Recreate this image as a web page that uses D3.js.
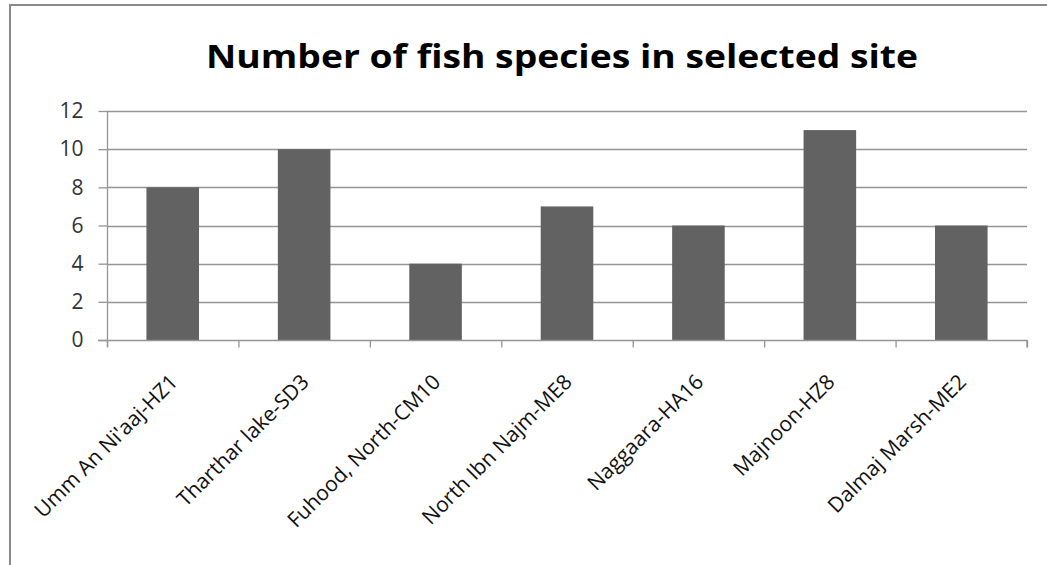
<!DOCTYPE html>
<html>
<head>
<meta charset="utf-8">
<script src="https://cdn.jsdelivr.net/npm/d3@7"></script>
<style>
	body { margin: 0; background: #fff; }
	text { font-family: "Open Sans", Lato, sans-serif; }
</style>
</head>
<body>
<script>
var sites = [
	"Umm An Ni'aaj-HZ1",
	'Tharthar lake-SD3',
	'Fuhood, North-CM10',
	'North Ibn Najm-ME8',
	'Naggaara-HA16',
	'Majnoon-HZ8',
	'Dalmaj Marsh-ME2'
];
var speciesCount = [8, 10, 4, 7, 6, 11, 6];
var yTicks = [0, 2, 4, 6, 8, 10, 12];
var title = 'Number of fish species in selected site';

var width = 1047, height = 565;
var plot = {left: 107, right: 1027, top: 111, bottom: 340};

var svg = d3.select('body')
	.append('svg')
	.attr('width', width)
	.attr('height', height);

// outer frame: only top and left edges are visible in the picture
svg.append('path')
	.attr('d', 'M10,' + height + ' L10,5 L' + width + ',5')
	.attr('fill', 'none')
	.attr('stroke', '#8a8a8a')
	.attr('stroke-width', 2);

// title is a bit wider than Open Sans, so stretch it to the original's span
svg.append('text')
	.attr('x', 562)
	.attr('y', 68)
	.attr('text-anchor', 'middle')
	.attr('font-size', 33)
	.attr('font-weight', 'bold')
	.attr('textLength', 712)
	.attr('lengthAdjust', 'spacingAndGlyphs')
	.attr('fill', '#000')
	.text(title);

var x = d3.scaleBand()
	.domain(sites)
	.range([plot.left, plot.right])
	.paddingInner(0.6)
	.paddingOuter(0.3);

var y = d3.scaleLinear()
	.domain([0, 12])
	.range([plot.bottom, plot.top]);

// horizontal gridlines
svg.append('g')
	.selectAll('line')
	.data(yTicks.filter(function(d) { return d > 0; }))
	.enter()
	.append('line')
	.attr('x1', plot.left)
	.attr('x2', plot.right)
	.attr('y1', function(d) { return Math.round(y(d)) + .5; })
	.attr('y2', function(d) { return Math.round(y(d)) + .5; })
	.attr('stroke', '#959595')
	.attr('stroke-width', 1.3);

svg.append('g')
	.selectAll('rect')
	.data(speciesCount)
	.enter()
	.append('rect')
	.attr('x', function(d, i) { return x(sites[i]); })
	.attr('width', x.bandwidth())
	.attr('y', function(d) { return y(d); })
	.attr('height', function(d) { return y(0) - y(d); })
	.attr('fill', '#626262');

// y axis
var yAxis = svg.append('g')
	.attr('transform', 'translate(' + (plot.left + .5) + ',0)')
	.call(d3.axisLeft(y).tickValues(yTicks).tickSize(9).tickPadding(15));
yAxis.select('.domain').attr('stroke', '#959595').attr('stroke-width', 1.3)
	.attr('d', 'M0,' + plot.top + 'V' + (plot.bottom + 7));
yAxis.selectAll('.tick line').attr('stroke', '#959595').attr('stroke-width', 1.3);
yAxis.selectAll('.tick text')
	.attr('font-size', 21)
	.attr('fill', '#333')
	.attr('font-family', '"Open Sans", sans-serif');

// x axis: ticks sit on band boundaries, as in the original
var xBound = d3.scaleLinear().domain([0, sites.length]).range([plot.left, plot.right]);
var xAxis = svg.append('g')
	.attr('transform', 'translate(0,' + (Math.round(plot.bottom) + .5) + ')')
	.call(d3.axisBottom(xBound).tickValues(d3.range(sites.length + 1)).tickSize(7).tickFormat(''));
xAxis.select('.domain').attr('stroke', '#959595').attr('stroke-width', 1.3)
	.attr('d', 'M' + (plot.left - 9) + ',0H' + plot.right + 'V7');
xAxis.selectAll('.tick line').attr('stroke', '#959595').attr('stroke-width', 1.3);

svg.append('g')
	.selectAll('text')
	.data(sites)
	.enter()
	.append('text')
	.attr('transform', function(d) {
		return 'translate(' + (x(d) + x.bandwidth() / 2 + 1) + ',' + 378 + ') rotate(-45)';
	})
	.attr('text-anchor', 'end')
	.attr('dy', '0.35em')
	.attr('font-size', 21)
	.attr('fill', '#111')
	.text(function(d) { return d; });
</script>
</body>
</html>
